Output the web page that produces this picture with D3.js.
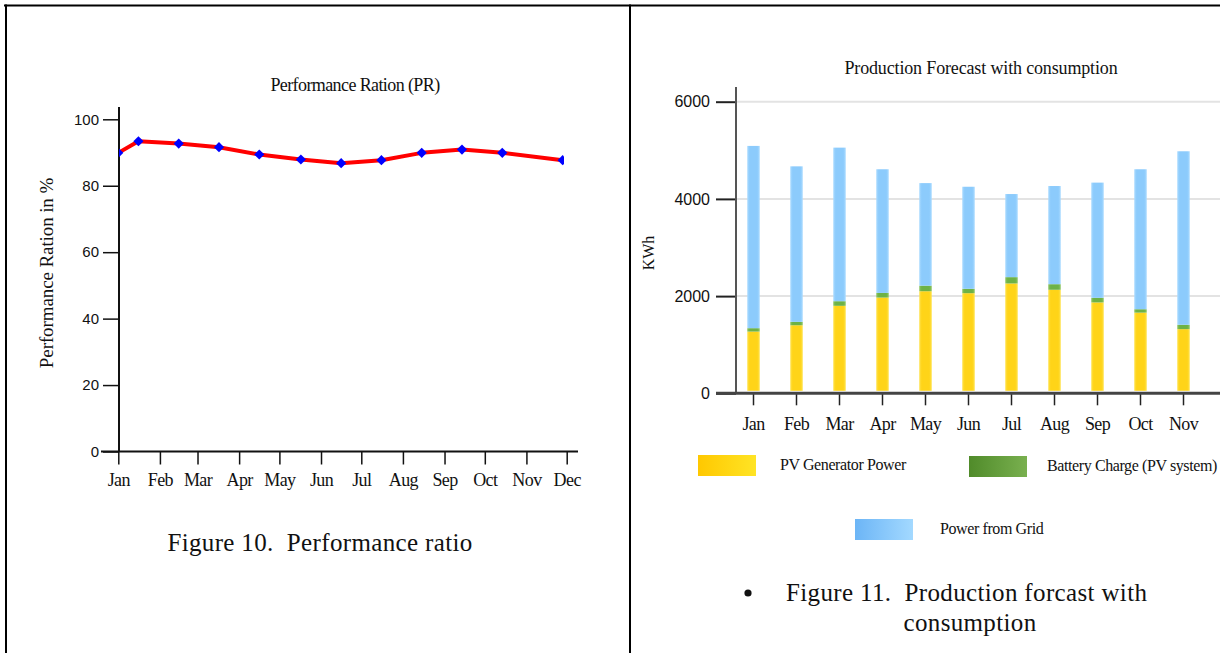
<!DOCTYPE html>
<html>
<head>
<meta charset="utf-8">
<script src="https://cdn.jsdelivr.net/npm/d3@7"></script>
<style>
  body { margin: 0; background: #fff; }
  svg { display: block; }
  text { fill: #111; }
</style>
</head>
<body>
<svg id="chart" width="1220" height="653"></svg>
<script>
// ---------- Data: Figure 10 (Performance ratio) ----------
const prDates = ["2013-01-01","2013-01-16","2013-02-15","2013-03-17","2013-04-16","2013-05-17",
                 "2013-06-16","2013-07-16","2013-08-15","2013-09-14","2013-10-14","2013-11-28"];
const prValues = [89.9, 93.4, 92.7, 91.6, 89.4, 87.9, 86.8, 87.7, 89.9, 90.9, 89.9, 87.7];
const prTicks = [0, 20, 40, 60, 80, 100];

// ---------- Data: Figure 11 (Production forecast with consumption) ----------
const months = ["Jan","Feb","Mar","Apr","May","Jun","Jul","Aug","Sep","Oct","Nov","Dec"];
const pvPower = [1270, 1400, 1800, 1970, 2100, 2060, 2260, 2130, 1870, 1660, 1320, 1150];
const batteryCharge = [70, 70, 95, 95, 115, 90, 130, 115, 95, 70, 90, 70];
const gridPower = [3750, 3200, 3160, 2545, 2110, 2100, 1710, 2020, 2370, 2880, 3570, 3800];
const kwhTicks = [0, 2000, 4000, 6000];
const visibleMonths = months.slice(0, 11); // Dec falls past the picture's right edge
const seriesNames = ["PV Generator Power", "Battery Charge (PV system)", "Power from Grid"];

const svg = d3.select("#chart");
const SERIF = "'Liberation Serif', 'Times New Roman', serif";
const SANS = "'Liberation Sans', Arial, sans-serif";

// ---------- Frame ----------
svg.append("line").attr("x1", 4).attr("x2", 1220).attr("y1", 5.5).attr("y2", 5.5)
  .attr("stroke", "#000").attr("stroke-width", 2);
svg.append("line").attr("x1", 6).attr("x2", 6).attr("y1", 4.5).attr("y2", 653)
  .attr("stroke", "#000").attr("stroke-width", 2);
svg.append("line").attr("x1", 630).attr("x2", 630).attr("y1", 4.5).attr("y2", 653)
  .attr("stroke", "#000").attr("stroke-width", 2);

// ================= LEFT CHART =================
const parse = d3.timeParse("%Y-%m-%d");
const prData = prDates.map((d, i) => ({ date: parse(d), value: prValues[i] }));

const xL = d3.scaleTime()
  .domain([parse("2013-01-01"), parse("2013-12-01")])
  .range([118.3, 566.7]);
const yL = d3.scaleLinear().domain([0, 100]).range([451.5, 119.3]);

const gL = svg.append("g");

// title
gL.append("text").attr("x", 355).attr("y", 91).attr("text-anchor", "middle")
  .style("font-family", SERIF).style("font-size", "18px").style("letter-spacing", "-0.6px")
  .text("Performance Ration (PR)");

// y label
gL.append("text").attr("transform", "translate(53,273) rotate(-90)").attr("text-anchor", "middle")
  .style("font-family", SERIF).style("font-size", "19px").style("letter-spacing", "-0.1px")
  .text("Performance Ration in %");

// y axis
const yAxisL = gL.append("g").attr("transform", "translate(119,0)")
  .call(d3.axisLeft(yL).tickValues(prTicks).tickSize(16).tickPadding(4).tickFormat(d3.format("d")));
yAxisL.select(".domain").remove();
yAxisL.selectAll(".tick line").attr("stroke", "#111").attr("stroke-width", 1.5);
yAxisL.selectAll(".tick text").style("font-family", SANS).style("font-size", "15px").attr("fill", "#222");
gL.append("line").attr("x1", 119).attr("x2", 119).attr("y1", 107).attr("y2", 452)
  .attr("stroke", "#111").attr("stroke-width", 2);

// x axis
const xAxisL = gL.append("g").attr("transform", "translate(0,451.5)")
  .call(d3.axisBottom(xL).ticks(d3.timeMonth.every(1)).tickFormat(d3.timeFormat("%b"))
    .tickSize(13).tickPadding(9));
xAxisL.select(".domain").remove();
xAxisL.selectAll(".tick line").attr("stroke", "#111").attr("stroke-width", 1.5);
xAxisL.selectAll(".tick text").style("font-family", SERIF).style("font-size", "18px")
  .style("letter-spacing", "-0.6px").attr("fill", "#111");
gL.append("line").attr("x1", 101).attr("x2", 578).attr("y1", 451.5).attr("y2", 451.5)
  .attr("stroke", "#111").attr("stroke-width", 2);

// clip for plot
svg.append("defs").append("clipPath").attr("id", "clipL")
  .append("rect").attr("x", 119).attr("y", 100).attr("width", 445).attr("height", 352);

const plotL = gL.append("g").attr("clip-path", "url(#clipL)");
plotL.append("path").datum(prData)
  .attr("fill", "none").attr("stroke", "#ff0000").attr("stroke-width", 4)
  .attr("stroke-linejoin", "round")
  .attr("d", d3.line().x(d => xL(d.date)).y(d => yL(d.value)));
plotL.selectAll(".pt").data(prData).join("path").attr("class", "pt")
  .attr("transform", d => `translate(${xL(d.date)},${yL(d.value)}) rotate(45)`)
  .attr("d", d3.symbol().type(d3.symbolSquare).size(52))
  .attr("fill", "#0000ff");

// caption
gL.append("text").attr("x", 320).attr("y", 551).attr("text-anchor", "middle")
  .style("font-family", SERIF).style("font-size", "25px").style("letter-spacing", "0.35px")
  .attr("xml:space", "preserve")
  .text("Figure 10.  Performance ratio");

// ================= RIGHT CHART =================
const defs = svg.select("defs");
function hGrad(id, stops) {
  const g = defs.append("linearGradient").attr("id", id)
    .attr("x1", "0%").attr("x2", "100%").attr("y1", "0%").attr("y2", "0%");
  stops.forEach(([o, c]) => g.append("stop").attr("offset", o).attr("stop-color", c));
}
hGrad("barPV", [["0%", "#ffe24a"], ["20%", "#ffd418"], ["80%", "#ffd418"], ["100%", "#ffe24a"]]);
hGrad("barBat", [["0%", "#8cc463"], ["20%", "#6db246"], ["80%", "#6db246"], ["100%", "#8cc463"]]);
hGrad("barGrid", [["0%", "#a9daff"], ["20%", "#8ccbfc"], ["80%", "#8ccbfc"], ["100%", "#a9daff"]]);
hGrad("legPV", [["0%", "#ffc800"], ["100%", "#ffe425"]]);
hGrad("legBat", [["0%", "#508b2a"], ["100%", "#79b04f"]]);
hGrad("legGrid", [["0%", "#6cb5f6"], ["100%", "#a3d9ff"]]);

const xR = d3.scaleBand().domain(months).range([732, 1248]).paddingInner(0.71).paddingOuter(0.355);
const yR = d3.scaleLinear().domain([0, 6000]).range([393.3, 101.7]);

const gR = svg.append("g");

// title
gR.append("text").attr("x", 981).attr("y", 74).attr("text-anchor", "middle")
  .style("font-family", SERIF).style("font-size", "18px").style("letter-spacing", "-0.15px")
  .text("Production Forecast with consumption");

// y label
gR.append("text").attr("transform", "translate(654,253) rotate(-90)").attr("text-anchor", "middle")
  .style("font-family", SERIF).style("font-size", "16px")
  .text("KWh");

// gridlines
gR.selectAll(".grid").data(kwhTicks.filter(d => d > 0)).join("line").attr("class", "grid")
  .attr("x1", 737).attr("x2", 1220).attr("y1", d => yR(d)).attr("y2", d => yR(d))
  .attr("stroke", "#e3e3e3").attr("stroke-width", 2);

// stacked bars
const rows = months.map((m, i) => ({ month: m, pv: pvPower[i], bat: batteryCharge[i], grid: gridPower[i] }));
const stack = d3.stack().keys(["pv", "bat", "grid"])(rows);
const fills = { pv: "url(#barPV)", bat: "url(#barBat)", grid: "url(#barGrid)" };
gR.selectAll(".series").data(stack).join("g").attr("class", "series")
  .attr("fill", s => fills[s.key])
  .selectAll("rect").data(s => s).join("rect")
  .attr("x", d => xR(d.data.month))
  .attr("width", xR.bandwidth())
  .attr("y", d => yR(d[1]))
  .attr("height", d => yR(d[0]) - yR(d[1]) - (d[0] === 0 ? 2.5 : 0));

// y axis
const yAxisR = gR.append("g").attr("transform", "translate(736,0)")
  .call(d3.axisLeft(yR).tickValues(kwhTicks).tickSize(20).tickPadding(6).tickFormat(d3.format("d")));
yAxisR.select(".domain").remove();
yAxisR.selectAll(".tick line").attr("stroke", "#222").attr("stroke-width", 2);
yAxisR.selectAll(".tick text").style("font-family", SANS).style("font-size", "16px").attr("fill", "#222");
gR.append("line").attr("x1", 736).attr("x2", 736).attr("y1", 87).attr("y2", 394)
  .attr("stroke", "#555").attr("stroke-width", 2);

// x axis
const xAxisR = gR.append("g").attr("transform", "translate(0,393.3)")
  .call(d3.axisBottom(xR).tickValues(visibleMonths).tickSize(12).tickPadding(12));
xAxisR.select(".domain").remove();
xAxisR.selectAll(".tick line").attr("stroke", "#222").attr("stroke-width", 1.5);
xAxisR.selectAll(".tick text").style("font-family", SERIF).style("font-size", "18px")
  .style("letter-spacing", "-0.6px").attr("fill", "#111");
gR.append("line").attr("x1", 716).attr("x2", 1220).attr("y1", 393.3).attr("y2", 393.3)
  .attr("stroke", "#444").attr("stroke-width", 3);

// legend
const legend = [
  { name: seriesNames[0], fill: "url(#legPV)", x: 698, y: 455, tx: 780 },
  { name: seriesNames[1], fill: "url(#legBat)", x: 969, y: 456, tx: 1047 },
  { name: seriesNames[2], fill: "url(#legGrid)", x: 855, y: 519, tx: 940 }
];
const lg = gR.selectAll(".leg").data(legend).join("g").attr("class", "leg");
lg.append("rect").attr("x", d => d.x).attr("y", d => d.y).attr("width", 58).attr("height", 21)
  .attr("fill", d => d.fill);
lg.append("text").attr("x", d => d.tx).attr("y", d => d.y + 15)
  .style("font-family", SERIF).style("font-size", "16px").style("letter-spacing", "-0.4px")
  .text(d => d.name);

// caption
gR.append("circle").attr("cx", 748).attr("cy", 593).attr("r", 3.6).attr("fill", "#111");
gR.append("text").attr("x", 786).attr("y", 601)
  .style("font-family", SERIF).style("font-size", "25px").style("letter-spacing", "0.35px")
  .attr("xml:space", "preserve")
  .text("Figure 11.  Production forcast with");
gR.append("text").attr("x", 970).attr("y", 631).attr("text-anchor", "middle")
  .style("font-family", SERIF).style("font-size", "25px").style("letter-spacing", "0.35px")
  .text("consumption");
</script>
</body>
</html>
